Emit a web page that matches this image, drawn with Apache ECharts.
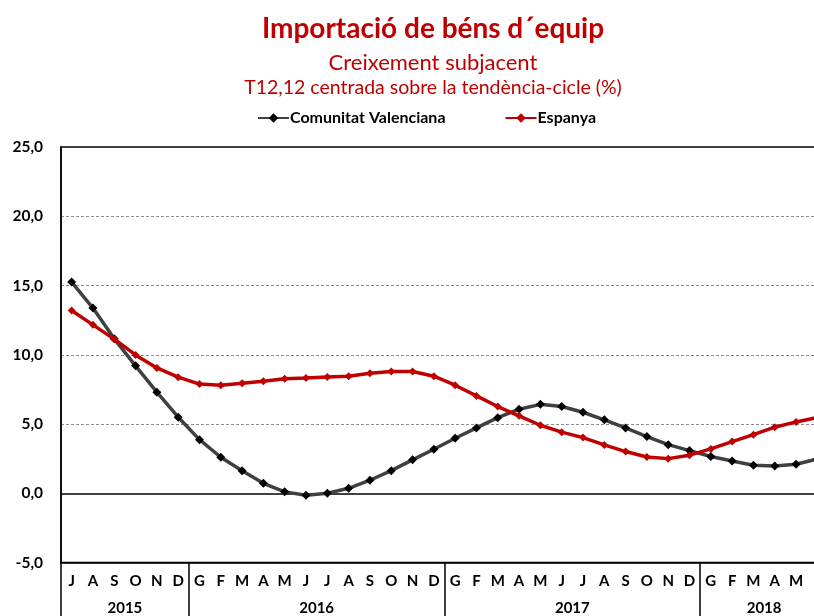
<!DOCTYPE html>
<html>
<head>
<meta charset="utf-8">
<script src="https://cdn.jsdelivr.net/npm/echarts@6/dist/echarts.min.js"></script>
<style>
  html, body { margin: 0; padding: 0; background: #fff; overflow: hidden; }
  #main { width: 840px; height: 616px; }
</style>
</head>
<body>
<div id="main"></div>
<script>
// mesos (J 2015 ... J 2018)
var months = ['J','A','S','O','N','D',
  'G','F','M','A','M','J','J','A','S','O','N','D',
  'G','F','M','A','M','J','J','A','S','O','N','D',
  'G','F','M','A','M','J'];
var yearLabels = ['2015', '2016', '2017', '2018'];
var yearLengths = [6, 12, 12, 6];

var valenciana = [15.25, 13.37, 11.15, 9.2, 7.3, 5.49,
  3.87, 2.6, 1.63, 0.72, 0.1, -0.15, 0.0, 0.36, 0.94, 1.63, 2.41, 3.18,
  3.97, 4.72, 5.46, 6.07, 6.42, 6.26, 5.85, 5.3, 4.72, 4.09, 3.51, 3.08,
  2.65, 2.33, 2.02, 1.97, 2.09, 2.47];
var espanya = [13.19, 12.16, 11.13, 9.99, 9.05, 8.38,
  7.88, 7.8, 7.95, 8.09, 8.27, 8.33, 8.4, 8.45, 8.67, 8.79, 8.79, 8.45,
  7.8, 7.03, 6.26, 5.59, 4.91, 4.41, 4.02, 3.49, 3.01, 2.62, 2.5, 2.75,
  3.2, 3.73, 4.23, 4.77, 5.15, 5.47];

// límits i centres dels anys sobre l'eix
var yearBounds = [-0.5];
var yearCenters = [];
var acc = 0;
yearLengths.forEach(function (n) {
  yearCenters.push(acc + (n - 1) / 2);
  acc += n;
  yearBounds.push(acc - 0.5);
});

var red = '#C00000';
var grey = '#404040';
var font = 'Lato';

var chart = echarts.init(document.getElementById('main'));
chart.setOption({
  animation: false,
  textStyle: { fontFamily: font },
  title: [
    { text: 'Importació de béns d´equip', left: 428, top: 10, textAlign: 'center',
      textStyle: { color: red, fontSize: 28, fontWeight: 'bold', fontFamily: font } },
    { text: 'Creixement subjacent', left: 428, top: 47, textAlign: 'center',
      textStyle: { color: red, fontSize: 22, fontWeight: 'normal', fontFamily: font } },
    { text: 'T12,12 centrada sobre la tendència-cicle (%)', left: 428, top: 73, textAlign: 'center',
      textStyle: { color: red, fontSize: 19.5, fontWeight: 'normal', fontFamily: font } }
  ],
  legend: {
    left: 257, top: 110, padding: 0,
    itemWidth: 31, itemHeight: 12, itemGap: 59,
    textStyle: { color: '#000', fontSize: 16, fontWeight: 'bold', fontFamily: font, padding: [0, 0, 0, -4] },
    data: ['Comunitat Valenciana', 'Espanya']
  },
  grid: {
    left: 61, top: 147, width: 767, height: 415.5,
    show: true, borderColor: '#000', borderWidth: 1.5, backgroundColor: '#fff'
  },
  xAxis: [
    {
      type: 'category', data: months, boundaryGap: true,
      axisLine: { show: true, onZero: false, lineStyle: { color: '#000', width: 1.5 } },
      axisTick: { show: false },
      axisLabel: { interval: 0, margin: 11, color: '#000', fontSize: 15, fontWeight: 'bold', fontFamily: font },
      splitLine: { show: false }
    },
    {
      type: 'value', min: -0.5, max: months.length - 0.5, position: 'bottom',
      axisLine: { show: false, onZero: false },
      axisTick: { show: true, customValues: yearBounds, length: 54, lineStyle: { color: '#000', width: 1.5 } },
      axisLabel: {
        customValues: yearCenters, margin: 38, color: '#000', fontSize: 15, fontWeight: 'bold', fontFamily: font,
        formatter: function (v) { return yearLabels[yearCenters.indexOf(v)] || ''; }
      },
      splitLine: { show: false }
    }
  ],
  yAxis: {
    type: 'value', min: -5, max: 25, interval: 5,
    axisLine: { show: true, onZero: false, lineStyle: { color: '#000', width: 1.5 } },
    axisTick: { show: false },
    axisLabel: {
      margin: 18, color: '#000', fontSize: 15.5, fontWeight: 'bold', fontFamily: font,
      formatter: function (v) { return v.toFixed(1).replace('.', ','); }
    },
    splitLine: {
      show: true,
      lineStyle: { type: [3, 2], width: 1,
        color: ['transparent', 'transparent', '#8c8c8c', '#8c8c8c', '#8c8c8c', '#8c8c8c', 'transparent'] }
    }
  },
  series: [
    {
      name: 'Comunitat Valenciana', type: 'line', data: valenciana, xAxisIndex: 0,
      symbol: 'diamond', symbolSize: 9,
      lineStyle: { color: grey, width: 3.5 },
      itemStyle: { color: '#000' },
      z: 3,
      markLine: {
        silent: true, symbol: 'none', label: { show: false },
        lineStyle: { color: '#000', width: 1.5, type: 'solid' },
        data: [{ yAxis: 0 }], z: 1
      }
    },
    {
      name: 'Espanya', type: 'line', data: espanya, xAxisIndex: 0,
      symbol: 'diamond', symbolSize: 8,
      lineStyle: { color: red, width: 3.5 },
      itemStyle: { color: red },
      z: 4
    }
  ]
});
</script>
</body>
</html>
